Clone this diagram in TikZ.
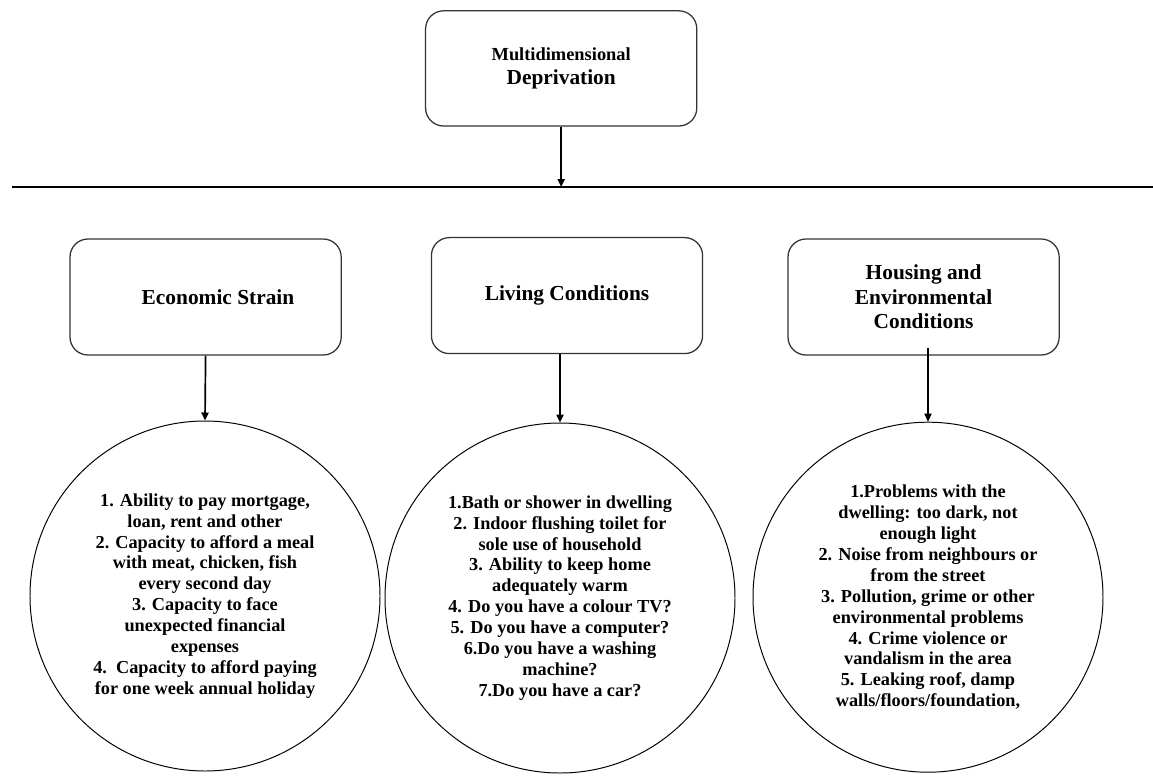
\documentclass[tikz,border=0pt]{standalone}
\usepackage{fontspec}
\setmainfont{Liberation Serif}
\usetikzlibrary{arrows.meta, positioning}

\begin{document}
\begin{tikzpicture}[
    rootbox/.style={rectangle, draw=black!80, line width=0.9pt, minimum width=6.78cm, minimum height=2.88cm,
                    rounded corners=0.45cm, align=center, font=\fontsize{15.2}{17.1}\selectfont\bfseries},
    dimbox/.style={rectangle, draw=black!80, line width=0.9pt, minimum width=6.78cm, minimum height=2.9cm,
                   rounded corners=0.45cm, align=center, font=\fontsize{15.2}{17.4}\selectfont\bfseries},
    itemcircle/.style={circle, draw=black, line width=0.7pt, minimum size=8.75cm, inner sep=0pt,
                       align=center, font=\fontsize{13}{14.9}\selectfont\bfseries},
    arr/.style={-{Triangle[length=2mm, width=1.8mm]}, line width=1.2pt},
]
\useasboundingbox (0,0) rectangle (28.825,-19.5);

% ── Top: the whole concept ──
\node[rootbox] (root) at (14.03,-1.71) {{\fontsize{13.1}{17.1}\selectfont Multidimensional}\\Deprivation};

\coordinate (lineL) at (0.3,-4.675);
\coordinate (lineR) at (28.825,-4.675);
\draw[line width=1.8pt] (lineL) -- (lineR);
\draw[arr] (root.south) -- (root.south |- lineL);

% ── Row 2: the three dimensions ──
\node[dimbox] (econ) at (5.14,-7.425) {\hspace*{0.62cm}Economic Strain};
\node[dimbox] (living) at (14.175,-7.39) {Living Conditions};
\node[dimbox] (housing) at (23.09,-7.425) {Housing and\\Environmental\\Conditions};

% ── Row 3: the items of each dimension ──
\node[itemcircle] (econlist) at (5.125,-14.9) {1. Ability to pay mortgage,\\loan, rent and other\\
    2. Capacity to afford a meal\\with meat, chicken, fish\\every second day\\
    3. Capacity to face\\unexpected financial\\expenses\\
    4.\ \ Capacity to afford paying\\for one week annual holiday};
\node[itemcircle] (livinglist) at (14.0,-14.95) {1.Bath or shower in dwelling\\
    2. Indoor flushing toilet for\\sole use of household\\
    3. Ability to keep home\\adequately warm\\
    4. Do you have a colour TV?\\
    5. Do you have a computer?\\
    6.Do you have a washing\\machine?\\
    7.Do you have a car?};
\node[itemcircle] (housinglist) at (23.2,-14.93) {1.Problems with the\\dwelling: too dark, not\\enough light\\
    2. Noise from neighbours or\\from the street\\
    3. Pollution, grime or other\\environmental problems\\
    4. Crime violence or\\vandalism in the area\\
    5. Leaking roof, damp\\walls/floors/foundation,};

\draw[arr] (econ.south) -- (econlist.north);
\draw[arr] (livinglist.north |- living.south) -- (livinglist.north);
\draw[arr] ([yshift=0.2cm]housinglist.north |- housing.south) -- (housinglist.north);

\end{tikzpicture}
\end{document}
